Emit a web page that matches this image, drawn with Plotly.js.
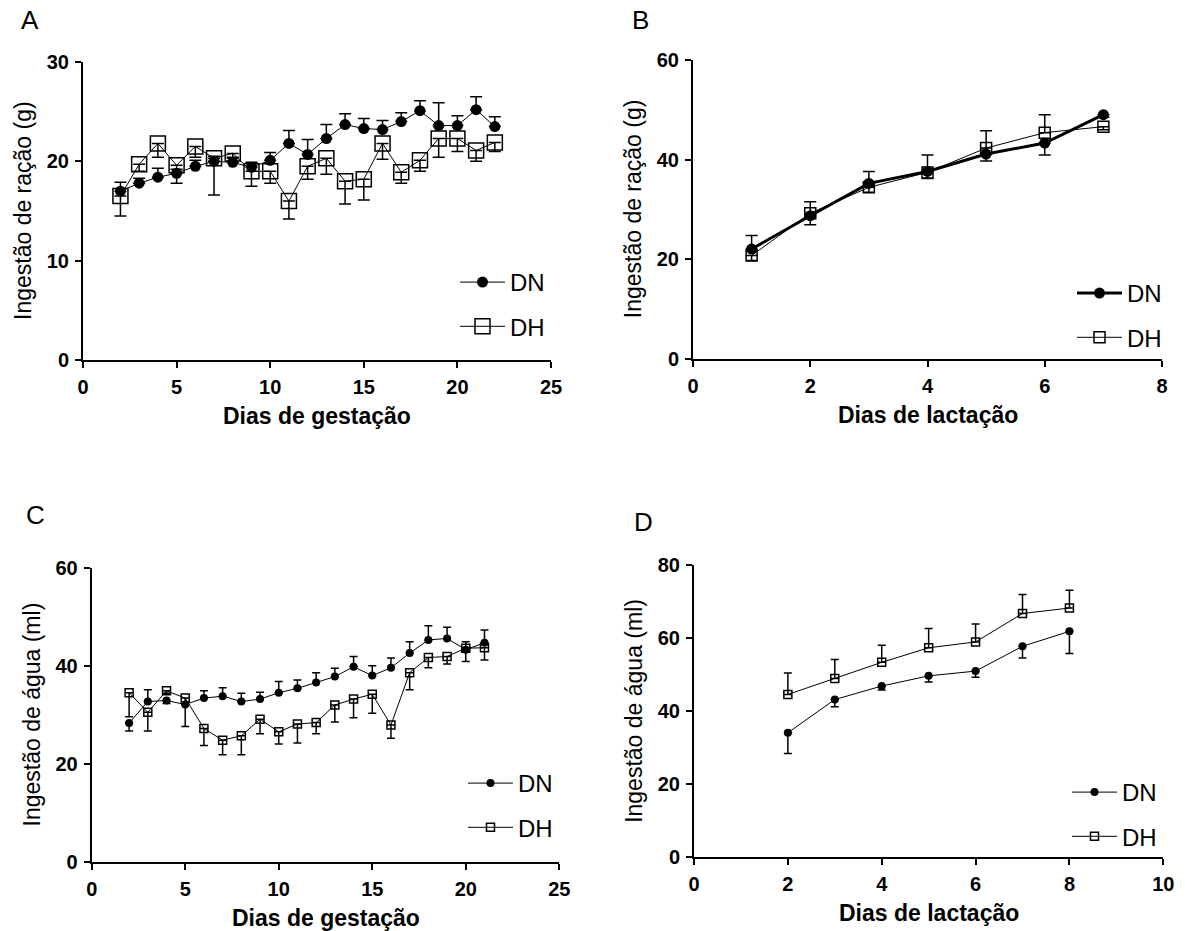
<!DOCTYPE html>
<html><head><meta charset="utf-8">
<script src="https://cdn.plot.ly/plotly-3.0.1.min.js"></script>
<style>html,body{margin:0;padding:0;background:#fff}#chart{width:1185px;height:931px}</style>
</head><body><div id="chart"></div>
<script>
// ---- Panel A: Ingestão de ração, gestação ----
const daysA = [2,3,4,5,6,7,8,9,10,11,12,13,14,15,16,17,18,19,20,21,22];
const A_DN = [17.0,17.8,18.4,18.8,19.5,20.0,19.9,19.4,20.1,21.8,20.7,22.3,23.7,23.3,23.2,24.0,25.1,23.6,23.6,25.2,23.5];
const A_DN_up = [0.9,0.5,0.9,0.4,0.6,0.5,0.5,0.5,0.8,1.3,1.5,1.4,1.1,1.0,0.9,0.9,1.0,2.3,1.0,1.3,1.0];
const A_DN_down = [0,0,0,0,0,0,0,0,0,0,0,0,0,0,0,0,0,0,0,0,0];
const A_DH = [16.5,19.7,21.8,19.6,21.5,20.3,20.8,19.0,19.0,16.0,19.5,20.3,18.0,18.2,21.8,18.9,20.1,22.3,22.3,21.1,21.9];
const A_DH_up = [0,0,0,0,0,0,0,0,0,0,0,0,0,0,0,0,0,0,0,0,0];
const A_DH_down = [2.0,0.7,1.4,1.8,1.1,3.7,0.5,1.5,1.2,1.8,1.3,1.6,2.3,2.1,1.6,1.1,1.1,1.9,1.3,1.1,0.9];

// ---- Panel B: Ingestão de ração, lactação ----
const daysB = [1,2,3,4,5,6,7];
const B_DN = [22.0,28.7,35.2,37.6,41.1,43.3,49.0];
const B_DN_up = [2.7,0,2.4,0,0,0,0];
const B_DN_down = [0,1.8,0,1.4,1.4,2.4,0.5];
const B_DH = [20.7,29.2,34.4,37.4,42.3,45.4,46.6];
const B_DH_up = [0,2.3,0,3.5,3.5,3.6,0];
const B_DH_down = [1.0,0,1.0,0,0,0,0.6];

// ---- Panel C: Ingestão de água, gestação ----
const daysC = [2,3,4,5,6,7,8,9,10,11,12,13,14,15,16,17,18,19,20,21];
const C_DN = [28.3,32.7,32.9,32.1,33.4,33.8,32.7,33.2,34.5,35.4,36.6,37.8,39.8,38.0,39.6,42.6,45.3,45.6,43.3,44.7];
const C_DN_up = [0,2.4,0,0,1.5,1.7,1.7,1.4,2.3,1.7,2.0,1.7,2.1,2.0,2.0,2.3,2.9,2.3,1.6,2.6];
const C_DN_down = [1.6,0,0.6,0,0,0,0,0,0,0,0,0,0,0,0,0,0,0,0,0];
const C_DH = [34.5,30.5,34.9,33.4,27.2,24.8,25.7,29.1,26.5,28.1,28.4,32.0,33.2,34.2,27.9,38.6,41.7,41.9,43.6,43.7];
const C_DH_up = [0,0,0,0,0,0,0,0,0,0,0,0,0,0,0,0,0,0,0,0];
const C_DH_down = [4.9,3.8,0.5,5.8,3.5,3.0,3.9,3.0,2.5,3.9,2.3,3.5,3.8,3.9,2.7,3.5,2.1,1.5,2.7,2.5];

// ---- Panel D: Ingestão de água, lactação ----
const daysD = [2,3,4,5,6,7,8];
const D_DN = [34.0,43.1,46.8,49.6,50.9,57.7,61.8];
const D_DN_up = [0,0,0,0,0,0,0];
const D_DN_down = [5.7,2.0,1.1,1.7,1.7,3.2,6.1];
const D_DH = [44.5,48.9,53.3,57.3,58.9,66.7,68.2];
const D_DH_up = [5.9,5.2,4.7,5.3,4.9,5.2,4.9];
const D_DH_down = [0,0,0,0,0,0,0];

const seriesNames = ['DN','DH'];
const panelLetters = ['A','B','C','D'];
const xTitles = ['Dias de gestação','Dias de lactação','Dias de gestação','Dias de lactação'];
const yTitles = ['Ingestão de ração (g)','Ingestão de ração (g)','Ingestão de água (ml)','Ingestão de água (ml)'];

const FONT = 'Arial, "Liberation Sans", sans-serif';

function trace(x, y, up, down, name, idx, kind, opt) {
  const isDN = kind === 'DN';
  return {
    type: 'scatter', mode: 'lines+markers', x: x, y: y, name: name,
    xaxis: idx === 1 ? 'x' : 'x' + idx, yaxis: idx === 1 ? 'y' : 'y' + idx,
    legend: idx === 1 ? 'legend' : 'legend' + idx,
    legendgroup: name + idx,
    line: {color: 'black', width: opt.lw},
    marker: isDN ? {symbol: 'circle', color: 'black', size: opt.ms}
                 : {symbol: 'square-open', color: 'black', size: opt.ms, line: {color: 'black', width: 1.5}},
    error_y: {type: 'data', symmetric: false, array: up, arrayminus: down,
              color: 'black', thickness: 1.5, width: opt.cap},
    cliponaxis: false
  };
}

const traces = [
  trace(daysA, A_DN, A_DN_up, A_DN_down, seriesNames[0], 1, 'DN', {lw: 1, ms: 11, cap: 6}),
  trace(daysA, A_DH, A_DH_up, A_DH_down, seriesNames[1], 1, 'DH', {lw: 1, ms: 15, cap: 6}),
  trace(daysB, B_DN, B_DN_up, B_DN_down, seriesNames[0], 2, 'DN', {lw: 3, ms: 11, cap: 6}),
  trace(daysB, B_DH, B_DH_up, B_DH_down, seriesNames[1], 2, 'DH', {lw: 1, ms: 11, cap: 6}),
  trace(daysC, C_DN, C_DN_up, C_DN_down, seriesNames[0], 3, 'DN', {lw: 1, ms: 8, cap: 4}),
  trace(daysC, C_DH, C_DH_up, C_DH_down, seriesNames[1], 3, 'DH', {lw: 1, ms: 8, cap: 4}),
  trace(daysD, D_DN, D_DN_up, D_DN_down, seriesNames[0], 4, 'DN', {lw: 1, ms: 8, cap: 4}),
  trace(daysD, D_DH, D_DH_up, D_DH_down, seriesNames[1], 4, 'DH', {lw: 1, ms: 8, cap: 4})
];

const W = 1185, H = 931;
const px = v => v / W;
const py = v => 1 - v / H;

function axis(extra) {
  return Object.assign({
    showline: true, linecolor: 'black', linewidth: 2,
    ticks: 'outside', ticklen: 6, tickwidth: 2, tickcolor: 'black',
    showgrid: false, zeroline: false, fixedrange: true,
    tickfont: {family: FONT, size: 20, weight: 'bold', color: 'black'},
    ticklabelstandoff: 2
  }, extra);
}

// plot areas in pixels: [left, right, top(max), bottom(0)]
const boxes = [
  [83, 551, 62, 360],
  [693, 1162, 60, 358.5],
  [91.7, 559.3, 568, 861.5],
  [694, 1163.3, 565, 856.7]
];
const xRanges = [[0,25],[0,8],[0,25],[0,10]];
const xDticks = [5,2,5,2];
const yRanges = [[0,30],[0,60],[0,60],[0,80]];
const yDticks = [10,20,20,20];

const layout = {
  width: W, height: H,
  margin: {l: 0, r: 0, t: 0, b: 0},
  paper_bgcolor: 'white', plot_bgcolor: 'white',
  font: {family: FONT, color: 'black'},
  annotations: [],
  showlegend: true
};

const legendPos = [[455, 260], [1072, 271], [463, 761], [1067, 770]];

for (let i = 0; i < 4; i++) {
  const n = i + 1;
  const b = boxes[i];
  const xk = n === 1 ? 'xaxis' : 'xaxis' + n;
  const yk = n === 1 ? 'yaxis' : 'yaxis' + n;
  layout[xk] = axis({domain: [px(b[0]), px(b[1])], range: xRanges[i], dtick: xDticks[i], tick0: 0,
                     anchor: n === 1 ? 'y' : 'y' + n});
  layout[yk] = axis({domain: [py(b[3]), py(b[2])], range: yRanges[i], dtick: yDticks[i], tick0: 0,
                     anchor: n === 1 ? 'x' : 'x' + n});
  const lk = n === 1 ? 'legend' : 'legend' + n;
  layout[lk] = {
    x: px(legendPos[i][0]), y: py(legendPos[i][1]), xanchor: 'left', yanchor: 'top',
    xref: 'paper', yref: 'paper',
    font: {family: FONT, size: 24, color: 'black'},
    bgcolor: 'rgba(0,0,0,0)', borderwidth: 0,
    traceorder: 'grouped', tracegroupgap: 10, itemwidth: 45
  };
  // x title
  layout.annotations.push({
    text: '<b>' + xTitles[i] + '</b>', xref: 'paper', yref: 'paper',
    x: px((b[0] + b[1]) / 2), y: py(b[3] + 56), xanchor: 'center', yanchor: 'middle',
    showarrow: false, font: {family: FONT, size: 23, color: 'black'}
  });
  // y title
  layout.annotations.push({
    text: yTitles[i], xref: 'paper', yref: 'paper', textangle: -90,
    x: px(b[0] - 60), y: py((b[2] + b[3]) / 2), xanchor: 'center', yanchor: 'middle',
    showarrow: false, font: {family: FONT, size: 23, color: 'black'}
  });
}

const letterPos = [[30, 20], [640, 20], [35, 515], [643, 522]];
for (let i = 0; i < 4; i++) {
  layout.annotations.push({
    text: panelLetters[i], xref: 'paper', yref: 'paper',
    x: px(letterPos[i][0]), y: py(letterPos[i][1]), xanchor: 'center', yanchor: 'middle',
    showarrow: false, font: {family: FONT, size: 26, color: 'black'}
  });
}

Plotly.newPlot('chart', traces, layout, {displayModeBar: false, staticPlot: true});
</script>
</body></html>
